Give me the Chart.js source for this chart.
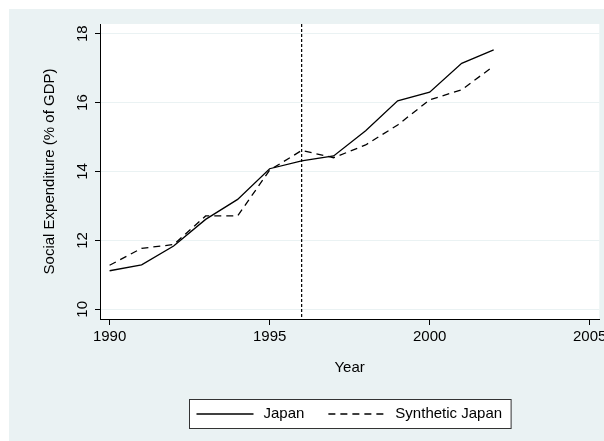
<!DOCTYPE html>
<html>
<head>
<meta charset="utf-8">
<script src="https://cdn.jsdelivr.net/npm/chart.js@4.4.1/dist/chart.umd.min.js"></script>
<style>
  html, body { margin: 0; padding: 0; background: #ffffff; }
  #wrap { width: 604px; height: 441px; position: relative; }
</style>
</head>
<body>
<div id="wrap"><canvas id="c" width="604" height="441"></canvas></div>
<script>
// ---- data ----
const years = [1990, 1991, 1992, 1993, 1994, 1995, 1996, 1997, 1998, 1999, 2000, 2001, 2002];
const japan = [11.12, 11.29, 11.84, 12.61, 13.19, 14.08, 14.31, 14.45, 15.18, 16.05, 16.30, 17.14, 17.53];
const syntheticJapan = [11.28, 11.77, 11.88, 12.71, 12.71, 14.04, 14.61, 14.40, 14.77, 15.35, 16.08, 16.37, 17.06];
const seriesNames = ['Japan', 'Synthetic Japan'];
const xTickValues = [1990, 1995, 2000, 2005];
const yTickValues = [10, 12, 14, 16, 18];
const treatmentYear = 1996;
const xTitle = 'Year';
const yTitle = 'Social Expenditure (% of GDP)';

const FONT = "'Liberation Sans', Arial, Helvetica, sans-serif";
Chart.defaults.font.family = FONT;
Chart.defaults.font.size = 15;
Chart.defaults.color = '#000';

const BG = '#eaf2f3';

const bgPlugin = {
  id: 'bg',
  beforeDraw(chart) {
    const ctx = chart.ctx, ca = chart.chartArea;
    ctx.save();
    ctx.fillStyle = '#ffffff';
    ctx.fillRect(0, 0, chart.width, chart.height);
    ctx.fillStyle = BG;
    ctx.fillRect(9, 9, chart.width - 9, chart.height - 9);
    ctx.fillStyle = '#ffffff';
    ctx.fillRect(ca.left, ca.top, ca.right - ca.left, ca.bottom - ca.top);
    ctx.restore();
  }
};

const vlinePlugin = {
  id: 'vline',
  afterDatasetsDraw(chart) {
    const ctx = chart.ctx, ca = chart.chartArea;
    const x = chart.scales.x.getPixelForValue(treatmentYear);
    ctx.save();
    ctx.strokeStyle = '#000';
    ctx.lineWidth = 1.2;
    ctx.setLineDash([3, 2]);
    ctx.beginPath();
    ctx.moveTo(x, ca.top);
    ctx.lineTo(x, ca.bottom);
    ctx.stroke();
    ctx.restore();
  }
};

const legendPlugin = {
  id: 'boxLegend',
  afterDraw(chart) {
    const ctx = chart.ctx, ca = chart.chartArea;
    ctx.save();
    ctx.font = '15px ' + FONT;
    const sample = 57, padL = 7, padR = 9, gapT = 10, gapItem = 24;
    const w0 = ctx.measureText(seriesNames[0]).width;
    const w1 = ctx.measureText(seriesNames[1]).width;
    const W = padL + sample + gapT + w0 + gapItem + sample + gapT + w1 + padR;
    const H = 29;
    const cx = (ca.left + ca.right) / 2;
    const left = Math.round(cx - W / 2) + 0.5;
    const top = 399.5;
    ctx.fillStyle = '#fff';
    ctx.fillRect(left, top, W, H);
    ctx.strokeStyle = '#333';
    ctx.lineWidth = 1;
    ctx.strokeRect(left, top, W, H);
    const cy = top + H / 2;
    let x = left + padL;
    const ds = chart.data.datasets;
    [0, 1].forEach(i => {
      ctx.strokeStyle = ds[i].borderColor;
      ctx.lineWidth = ds[i].borderWidth;
      ctx.setLineDash(ds[i].borderDash || []);
      ctx.beginPath();
      ctx.moveTo(x, cy);
      ctx.lineTo(x + sample, cy);
      ctx.stroke();
      ctx.setLineDash([]);
      x += sample + gapT;
      ctx.fillStyle = '#000';
      ctx.textAlign = 'left';
      ctx.textBaseline = 'middle';
      ctx.fillText(seriesNames[i], x, cy);
      x += (i === 0 ? w0 : w1) + gapItem;
    });
    ctx.restore();
  }
};

new Chart(document.getElementById('c'), {
  type: 'line',
  data: {
    datasets: [
      {
        label: seriesNames[0],
        data: years.map((yr, i) => ({ x: yr, y: japan[i] })),
        borderColor: '#000',
        borderWidth: 1.3,
        pointRadius: 0,
        tension: 0,
        fill: false
      },
      {
        label: seriesNames[1],
        data: years.map((yr, i) => ({ x: yr, y: syntheticJapan[i] })),
        borderColor: '#000',
        borderWidth: 1.3,
        borderDash: [7, 5],
        pointRadius: 0,
        tension: 0,
        fill: false
      }
    ]
  },
  options: {
    responsive: false,
    animation: false,
    devicePixelRatio: 1,
    layout: { padding: { top: 24, right: 4.7, left: 0, bottom: 0 } },
    plugins: { legend: { display: false }, tooltip: { enabled: false } },
    scales: {
      x: {
        type: 'linear',
        min: 1989.7,
        max: 2005.3,
        afterBuildTicks: s => { s.ticks = xTickValues.map(v => ({ value: v })); },
        afterFit: s => { s.height = 122; s.paddingLeft = 0; s.paddingRight = 0; },
        ticks: { callback: v => String(v), padding: 3, maxRotation: 0, autoSkip: false, color: '#000' },
        grid: { display: true, drawOnChartArea: false, drawTicks: true, tickLength: 6, color: '#000', lineWidth: 1 },
        border: { display: true, color: '#000', width: 1 },
        title: { display: true, text: xTitle, color: '#000', padding: { top: 0, bottom: 64 } }
      },
      y: {
        type: 'linear',
        min: 9.72,
        max: 18.28,
        afterBuildTicks: s => { s.ticks = yTickValues.map(v => ({ value: v })); },
        afterFit: s => { s.width = 100; s.paddingTop = 0; s.paddingBottom = 0; },
        ticks: { callback: v => String(v), padding: 3.5, minRotation: 90, maxRotation: 90, crossAlign: 'center', autoSkip: false, color: '#000' },
        grid: { display: true, drawOnChartArea: true, drawTicks: true, tickLength: 5, color: BG, tickColor: '#000', lineWidth: 1 },
        border: { display: true, color: '#000', width: 1 },
        title: { display: true, text: yTitle, color: '#000', padding: { top: 41, bottom: 0 } }
      }
    }
  },
  plugins: [bgPlugin, vlinePlugin, legendPlugin]
});
</script>
</body>
</html>
